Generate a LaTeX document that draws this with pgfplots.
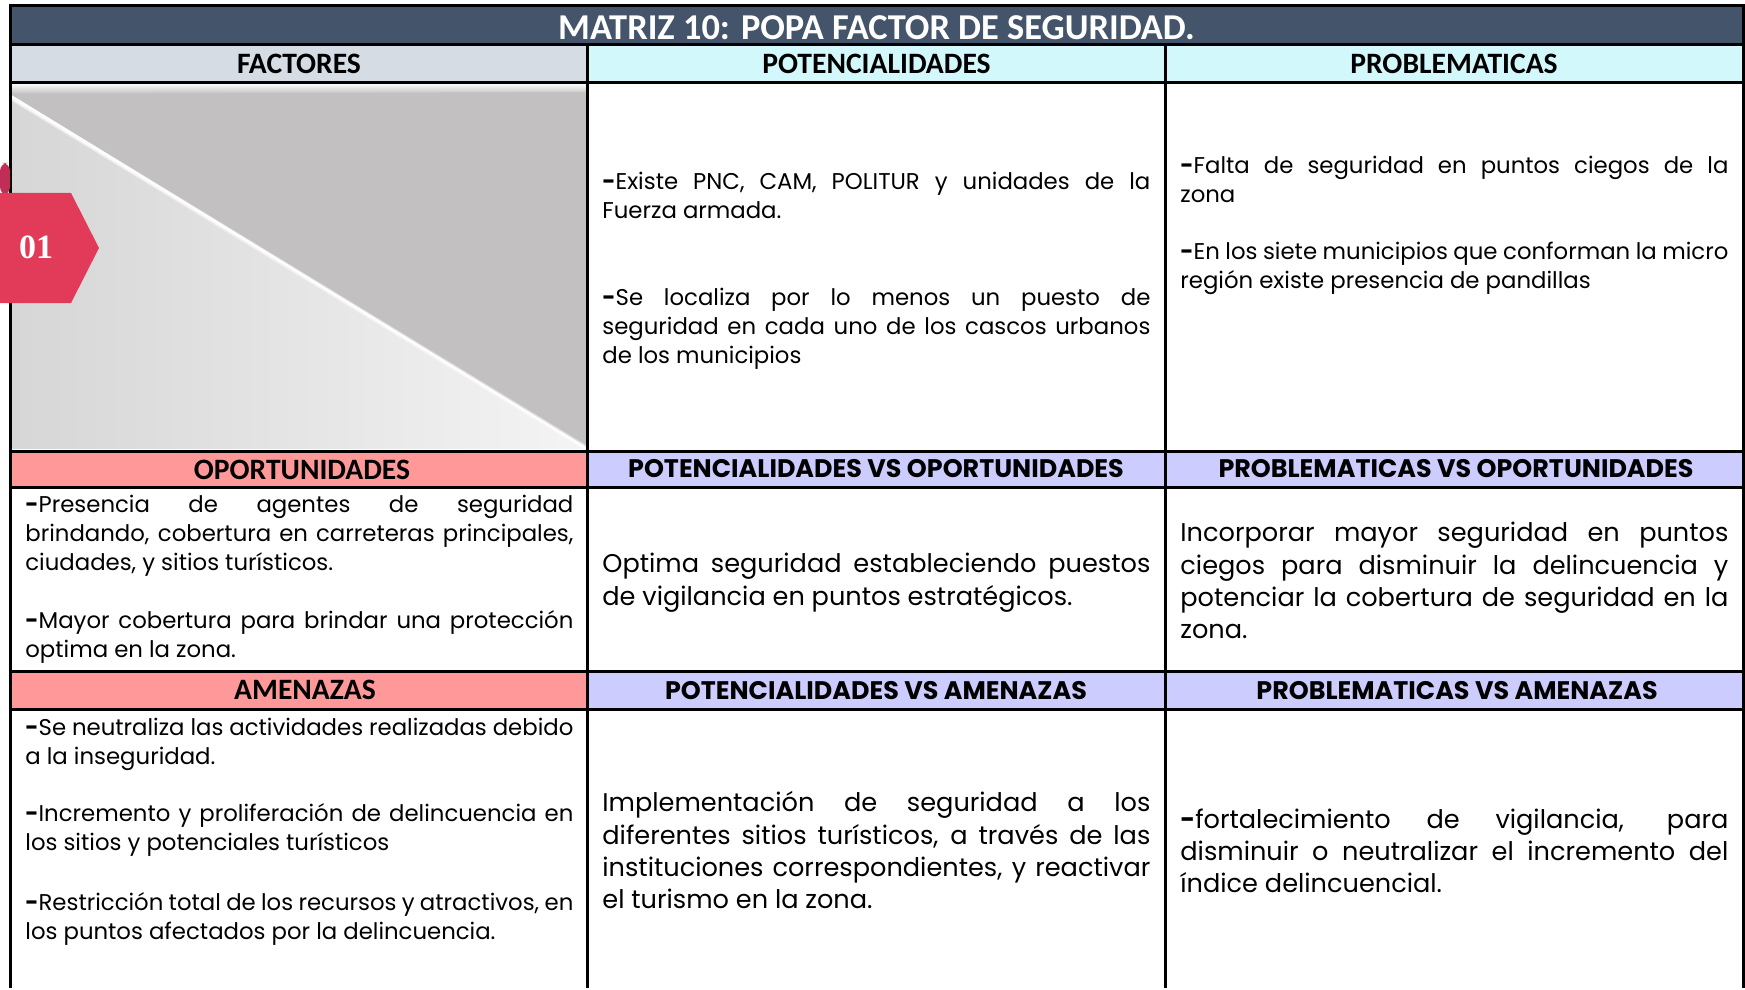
\documentclass[border=0pt]{standalone}
\usepackage{pgfplots}
\pgfplotsset{compat=1.18}
\usepackage{fontspec}
\setmainfont{Poppins}
\newfontfamily\calibri{Carlito}
\newfontfamily\numfont{Liberation Serif}
\definecolor{titlebg}{HTML}{44546A}
\definecolor{factbg}{HTML}{D6DCE4}
\definecolor{cyanbg}{HTML}{D3F8FC}
\definecolor{salmon}{HTML}{FF9999}
\definecolor{lav}{HTML}{CCCCFF}
\definecolor{imgdark}{HTML}{C2C0C1}
\definecolor{imglight}{HTML}{D6D6D6}
\definecolor{imgwhite}{HTML}{F4F4F4}
\definecolor{hexpink}{HTML}{E23B5A}
\definecolor{hexdark}{HTML}{C02D57}
\newlength\cw \setlength\cw{274pt}
\newcommand\jl[1]{{\spaceskip=0pt\relax\xspaceskip=0pt\relax\makebox[\cw][s]{#1}}}
\newcommand\nl[1]{{\spaceskip=0pt\relax\xspaceskip=0pt\relax #1}}
\newcommand\dsh{\textbf{-}}
\newcommand\fa{\fontsize{11.4}{14.5}\selectfont}
\newcommand\fb{\fontsize{12.8}{16.15}\selectfont}
\newcommand\hfa{\calibri\bfseries\fontsize{14.8}{16}\selectfont}
\newcommand\hfb{\bfseries\fontsize{12.7}{14}\selectfont}
\tikzset{body/.style={anchor=base west, inner sep=0pt, text width=\cw, align=left}}
\begin{document}
\begin{tikzpicture}
\begin{axis}[width=872.5pt,height=494pt,scale only axis,
  xmin=0,xmax=1745,ymin=0,ymax=988,y dir=reverse,hide axis,clip=false]
\path (0,0) rectangle (1745,988);
% header fills
\fill[titlebg] (10,6) rectangle (1743,45);
\fill[factbg] (10,45) rectangle (587,82.5);
\fill[cyanbg] (587,45) rectangle (1743,82.5);
\fill[salmon] (10,451) rectangle (587,487);
\fill[salmon] (10,671) rectangle (587,709);
\fill[lav] (587,451) rectangle (1743,487);
\fill[lav] (587,671) rectangle (1743,709);
% picture in FACTORES cell
\shade[top color=white, bottom color=imgdark] (10,83) rectangle (587,94);
\shade[left color=imglight, right color=imgwhite] (10,96) -- (586,449) -- (10,449) -- cycle;
\fill[imgdark] (10,94) -- (586,92) -- (586,447) -- cycle;
\draw[white, line width=2.5pt, opacity=0.5] (10,97) -- (586,448);
\draw[white, line width=1pt, opacity=0.8] (10,97) -- (586,448);
% grid
\draw[line width=1.5pt] (10,988) -- (10,6) -- (1743,6) -- (1743,988);
\draw[line width=1.5pt] (10,45) -- (1743,45);
\draw[line width=1.5pt] (10,82.5) -- (1743,82.5);
\draw[line width=1.5pt] (10,451) -- (1743,451);
\draw[line width=1.5pt] (10,487) -- (1743,487);
\draw[line width=1.5pt] (10,671) -- (1743,671);
\draw[line width=1.5pt] (10,709) -- (1743,709);
\draw[line width=1.5pt] (587,45) -- (587,988);
\draw[line width=1.5pt] (1165.5,45) -- (1165.5,988);
% tab 01
\fill[hexdark, rounded corners=4pt] (0,163) -- (10,163) -- (10,195) -- (0,195) -- cycle;
\fill[hexpink] (0,193) -- (71,193) -- (99,248) -- (71,303) -- (0,303) -- cycle;
\node[text=white, font=\numfont\bfseries\fontsize{17}{17}\selectfont] at (36,247) {01};
% titles
\node[anchor=base, text=white, font=\calibri\bfseries\fontsize{18.2}{20}\selectfont] at (876.5,39.3) {MATRIZ 10: POPA FACTOR DE SEGURIDAD.};
\node[anchor=base, font=\hfa] at (299,73.5) {FACTORES};
\node[anchor=base, font=\hfa] at (876.5,73.5) {POTENCIALIDADES};
\node[anchor=base, font=\hfa] at (1454,73.5) {PROBLEMATICAS};
\node[anchor=base, font=\hfa] at (302,479.3) {OPORTUNIDADES};
\node[anchor=base, font=\hfa] at (305,699.3) {AMENAZAS};
\node[anchor=base, font=\hfb] at (876,477.3) {POTENCIALIDADES VS OPORTUNIDADES};
\node[anchor=base, font=\hfb] at (1456,477.3) {PROBLEMATICAS VS OPORTUNIDADES};
\node[anchor=base, font=\hfb] at (876,699.3) {POTENCIALIDADES VS AMENAZAS};
\node[anchor=base, font=\hfb] at (1457,699.3) {PROBLEMATICAS VS AMENAZAS};
% row 1
\node[body, font=\fa] at (602,189.3) {\jl{\dsh Existe PNC, CAM, POLITUR y unidades de la}\\\nl{Fuerza armada.}};
\node[body, font=\fa] at (602,306) {\jl{\dsh Se localiza por lo menos un puesto de}\\\jl{seguridad en cada uno de los cascos urbanos}\\\nl{de los municipios}};
\node[body, font=\fa] at (1180,173.3) {\jl{\dsh Falta de seguridad en puntos ciegos de la}\\\nl{zona}};
\node[body, font=\fa] at (1180,260) {\jl{\dsh En los siete municipios que conforman la micro}\\\nl{región existe presencia de pandillas}};
% row 2
\node[body, font=\fa] at (25,512.7) {\jl{\dsh Presencia de agentes de seguridad}\\\jl{brindando, cobertura en carreteras principales,}\\\nl{ciudades, y sitios turísticos.}};
\node[body, font=\fa] at (25,628.3) {\jl{\dsh Mayor cobertura para brindar una protección}\\\nl{optima en la zona.}};
\node[body, font=\fb] at (602,572.7) {\jl{Optima seguridad estableciendo puestos}\\\nl{de vigilancia en puntos estratégicos.}};
\node[body, font=\fb] at (1180,541.7) {\jl{Incorporar mayor seguridad en puntos}\\\jl{ciegos para disminuir la delincuencia y}\\\jl{potenciar la cobertura de seguridad en la}\\\nl{zona.}};
% row 3
\node[body, font=\fa] at (25,735) {\jl{\dsh Se neutraliza las actividades realizadas debido}\\\nl{a la inseguridad.}};
\node[body, font=\fa] at (25,821.7) {\jl{\dsh Incremento y proliferación de delincuencia en}\\\nl{los sitios y potenciales turísticos}};
\node[body, font=\fa] at (25,910) {\jl{\dsh Restricción total de los recursos y atractivos, en}\\\nl{los puntos afectados por la delincuencia.}};
\node[body, font=\fb] at (602,811.7) {\jl{Implementación de seguridad a los}\\\jl{diferentes sitios turísticos, a través de las}\\\jl{instituciones correspondientes, y reactivar}\\\nl{el turismo en la zona.}};
\node[body, font=\fb] at (1180,828.3) {\jl{\dsh fortalecimiento de vigilancia, para}\\\jl{disminuir o neutralizar el incremento del}\\\nl{índice delincuencial.}};
\end{axis}
\end{tikzpicture}
\end{document}
